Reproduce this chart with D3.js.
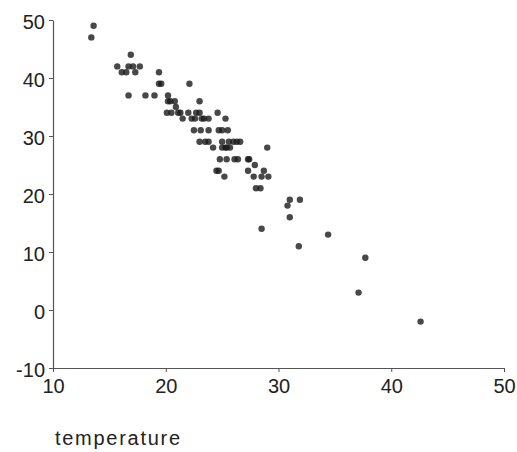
<!DOCTYPE html>
<html>
<head>
<meta charset="utf-8">
<script src="https://cdn.jsdelivr.net/npm/d3@7"></script>
<style>
  body { margin: 0; background: #fff; }
  svg { display: block; font-family: "Liberation Sans", Arial, sans-serif; }
  .axis path, .axis line { stroke: #555; }
  .axis text { fill: #222; font-size: 20px; }
</style>
</head>
<body>
<svg width="517" height="452"></svg>
<script>
// temperature readings and matching y values
var temperature = [
  13.4, 13.6, 15.7, 16.1, 16.5, 16.9, 16.7, 17.1, 17.3, 17.7,
  16.7, 18.2, 19.0, 19.4, 19.4, 19.6, 22.1, 20.2, 20.2, 20.4,
  20.8, 23.0, 20.9, 20.1, 20.5, 21.1, 21.3, 22.0, 22.7, 23.0,
  24.6, 21.5, 22.3, 22.6, 23.2, 23.4, 23.8, 25.3, 22.5, 23.1,
  23.8, 24.7, 25.0, 25.5, 23.0, 23.5, 23.8, 25.0, 25.6, 26.0,
  26.3, 26.6, 24.2, 25.0, 25.3, 25.4, 25.7, 29.0, 24.8, 25.4,
  26.1, 26.4, 27.3, 27.4, 27.9, 24.5, 24.7, 27.3, 28.7, 25.2,
  27.8, 28.5, 29.1, 28.0, 28.4, 31.0, 31.9, 30.8, 31.0, 28.5,
  34.4, 31.8, 37.7, 37.1, 42.6
];
var values = [
  47, 49, 42, 41, 41, 44, 42, 42, 41, 42,
  37, 37, 37, 41, 39, 39, 39, 37, 36, 36,
  36, 36, 35, 34, 34, 34, 34, 34, 34, 34,
  34, 33, 33, 33, 33, 33, 33, 33, 31, 31,
  31, 31, 31, 31, 29, 29, 29, 29, 29, 29,
  29, 29, 28, 28, 28, 28, 28, 28, 26, 26,
  26, 26, 26, 26, 25, 24, 24, 24, 24, 23,
  23, 23, 23, 21, 21, 19, 19, 18, 16, 14,
  13, 11, 9, 3, -2
];
var xTicks = [10, 20, 30, 40, 50];
var yTicks = [-10, 0, 10, 20, 30, 40, 50];

var svg = d3.select("svg"),
    margin = {top: 20, left: 53},
    width = 451,
    height = 348,
    g = svg.append("g").attr("transform", "translate(" + margin.left + "," + margin.top + ")");

var x = d3.scaleLinear().domain([10, 50]).range([0, width]);
var y = d3.scaleLinear().domain([-10, 50]).range([height, 0]);

var data = temperature.map(function(t, i) { return {t: t, v: values[i]}; });

// plain hyphen for negatives, like the original
var fmt = function(d) { return String(d); };

g.append("g")
    .attr("class", "axis")
    .attr("transform", "translate(0," + height + ")")
    .call(d3.axisBottom(x).tickValues(xTicks).tickFormat(fmt).tickSize(4).tickSizeOuter(0).tickPadding(7));

g.append("g")
    .attr("class", "axis")
    .call(d3.axisLeft(y).tickValues(yTicks).tickFormat(fmt).tickSize(4).tickSizeOuter(0).tickPadding(4))
    .selectAll("text").attr("dy", "0.42em");

g.selectAll(".axis .domain").attr("stroke-width", 1.2);

g.append("g")
    .selectAll("circle")
    .data(data)
    .enter().append("circle")
    .attr("cx", function(d) { return x(d.t); })
    .attr("cy", function(d) { return y(d.v); })
    .attr("r", 3.2)
    .attr("fill", "#1a1a1a")
    .attr("fill-opacity", 0.8);

svg.append("text")
    .attr("x", 55)
    .attr("y", 445)
    .attr("font-size", 20)
    .attr("fill", "#222")
    .attr("textLength", 125)
    .text("temperature");
</script>
</body>
</html>
